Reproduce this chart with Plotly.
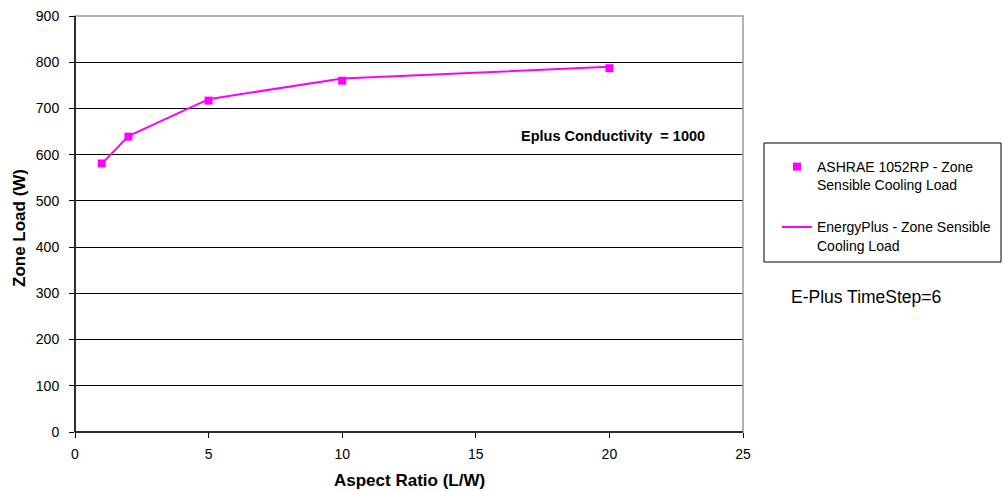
import plotly.graph_objects as go

# Aspect ratio (L/W) values and zone sensible cooling loads (W)
aspect_ratio = [1, 2, 5, 10, 20]
ashrae_load = [581, 639, 717, 760, 787]
eplus_load = [580, 640, 720, 765, 790]

x_ticks = [0, 5, 10, 15, 20, 25]
y_ticks = [0, 100, 200, 300, 400, 500, 600, 700, 800, 900]

MAGENTA = "#FF00FF"
FONT = "Liberation Sans, Arial, sans-serif"

# Plot-area geometry in pixels
L, R, T, B = 75, 743, 16, 432
W, H = 1003, 491
PW, PH = R - L, B - T


def px_x(p):
    return (p - L) / PW


def px_y(p):
    return (B - p) / PH


fig = go.Figure()

fig.add_trace(go.Scatter(
    x=aspect_ratio, y=ashrae_load, mode="markers", legendgroup="a",
    name="ASHRAE 1052RP - Zone<br>Sensible Cooling Load",
    marker=dict(symbol="square", size=8, color=MAGENTA),
))
fig.add_trace(go.Scatter(
    x=aspect_ratio, y=eplus_load, mode="lines", legendgroup="b",
    name="EnergyPlus - Zone Sensible<br>Cooling Load",
    line=dict(color=MAGENTA, width=2),
))

# Plot area frame (grey top/right edges)
fig.add_shape(type="rect", xref="paper", yref="paper", x0=0, y0=0, x1=1, y1=1,
              line=dict(color="#9a9a9a", width=1.5), layer="above")
# Axis lines on top of the frame
fig.add_shape(type="line", xref="paper", yref="paper", x0=0, y0=0, x1=0, y1=1,
              line=dict(color="#000", width=1.5), layer="above")
fig.add_shape(type="line", xref="paper", yref="paper", x0=0, y0=0, x1=1, y1=0,
              line=dict(color="#000", width=1.5), layer="above")

# Legend frame
fig.add_shape(type="rect", xref="paper", yref="paper",
              x0=px_x(764), x1=px_x(1001), y0=px_y(262), y1=px_y(143),
              line=dict(color="#000000", width=1))

fig.add_annotation(x=px_x(707), y=px_y(136), xref="paper", yref="paper",
                   text="<b>Eplus Conductivity  = 1000</b>",
                   showarrow=False, xanchor="right", yanchor="middle",
                   font=dict(family=FONT, size=14.5, color="#000"))
fig.add_annotation(x=px_x(789), y=px_y(297), xref="paper", yref="paper",
                   text="E-Plus TimeStep=6", showarrow=False, xanchor="left", yanchor="middle",
                   font=dict(family=FONT, size=17.5, color="#000"))

# Axis titles
fig.add_annotation(x=0.5, y=px_y(481), xref="paper", yref="paper",
                   text="<b>Aspect Ratio (L/W)</b>", showarrow=False,
                   xanchor="center", yanchor="middle",
                   font=dict(family=FONT, size=17, color="#000"))
fig.add_annotation(x=px_x(19), y=px_y(228), xref="paper", yref="paper",
                   text="<b>Zone Load (W)</b>", showarrow=False, textangle=-90,
                   xanchor="center", yanchor="middle",
                   font=dict(family=FONT, size=17, color="#000"))

fig.update_layout(
    width=W, height=H,
    margin=dict(l=L, r=W - R, t=T, b=H - B, autoexpand=False),
    paper_bgcolor="white", plot_bgcolor="white",
    font=dict(family=FONT, size=14, color="#000"),
    showlegend=True,
    legend=dict(
        x=px_x(777), y=px_y(151), xanchor="left", yanchor="top",
        bgcolor="rgba(0,0,0,0)", borderwidth=0,
        font=dict(family=FONT, size=14, color="#000"),
        valign="top", tracegroupgap=21, itemwidth=30,
    ),
    xaxis=dict(
        range=[0, 25], tickvals=x_ticks, showgrid=False, zeroline=False,
        showline=False, automargin=False,
        ticks="outside", ticklen=5, tickcolor="#000", ticklabelstandoff=4,
        tickfont=dict(family=FONT, size=14, color="#000"),
    ),
    yaxis=dict(
        range=[0, 900], tickvals=y_ticks, showgrid=True, gridcolor="#000", gridwidth=1,
        zeroline=False, showline=False, automargin=False,
        ticks="outside", ticklen=5, tickcolor="#000", ticklabelstandoff=7,
        tickfont=dict(family=FONT, size=14, color="#000"),
    ),
)

fig.write_html("out.html")
